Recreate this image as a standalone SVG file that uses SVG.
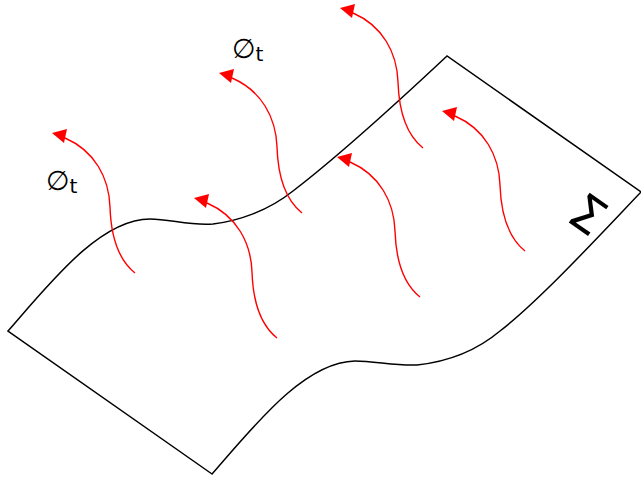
<svg xmlns="http://www.w3.org/2000/svg" xmlns:xlink="http://www.w3.org/1999/xlink" width="641" height="477" viewBox="0 0 641 477">
  <style>
    .edge { fill: none; stroke: #000; stroke-width: 1.5; stroke-linejoin: miter; }
    .flow { fill: none; stroke: #ff0000; stroke-width: 1.4; }
    .head { fill: #ff0000; stroke: none; }
    .lbl { font-family: "DejaVu Sans", "Noto Sans", sans-serif; fill: #000; }
  </style>
  <defs>
    <g id="flowline">
      <path class="flow" d="M0,0 C -15,-12 -24,-35 -25,-66 C -26,-95 -40,-122 -70,-135"/>
      <polygon class="head" points="-83,-140 -68,-144 -71,-130"/>
    </g>
  </defs>
  <rect width="641" height="477" fill="#fff"/>
  <g id="surface">
    <path class="edge" d="M212,474 L8,331 C 50,283 100,219 150,219 C 170,219 190,226 213,224 C 238,221 268,211 293,191 C 340,155 400,100 447,56 L641,192 C 600,235 540,300 500,331 C 475,352 445,362 417,365 C 395,366 375,361 355,361 C 304,362 254,426 212,474 Z"/>
  </g>
  <g id="sigma">
    <text class="lbl" font-size="50" text-anchor="middle" transform="translate(588,214) rotate(35)" y="18">Σ</text>
  </g>
  <g id="flows">
    <use xlink:href="#flowline" x="135" y="273"/>
    <use xlink:href="#flowline" x="277" y="338"/>
    <use xlink:href="#flowline" x="302" y="213"/>
    <use xlink:href="#flowline" x="423" y="148"/>
    <use xlink:href="#flowline" x="420" y="297"/>
    <use xlink:href="#flowline" x="525" y="251"/>
  </g>
  <g id="label1">
    <text class="lbl" x="46" y="190" font-size="27">∅<tspan font-size="20" dy="3">t</tspan></text>
  </g>
  <g id="label2">
    <text class="lbl" x="232" y="58" font-size="27">∅<tspan font-size="20" dy="3">t</tspan></text>
  </g>
</svg>
